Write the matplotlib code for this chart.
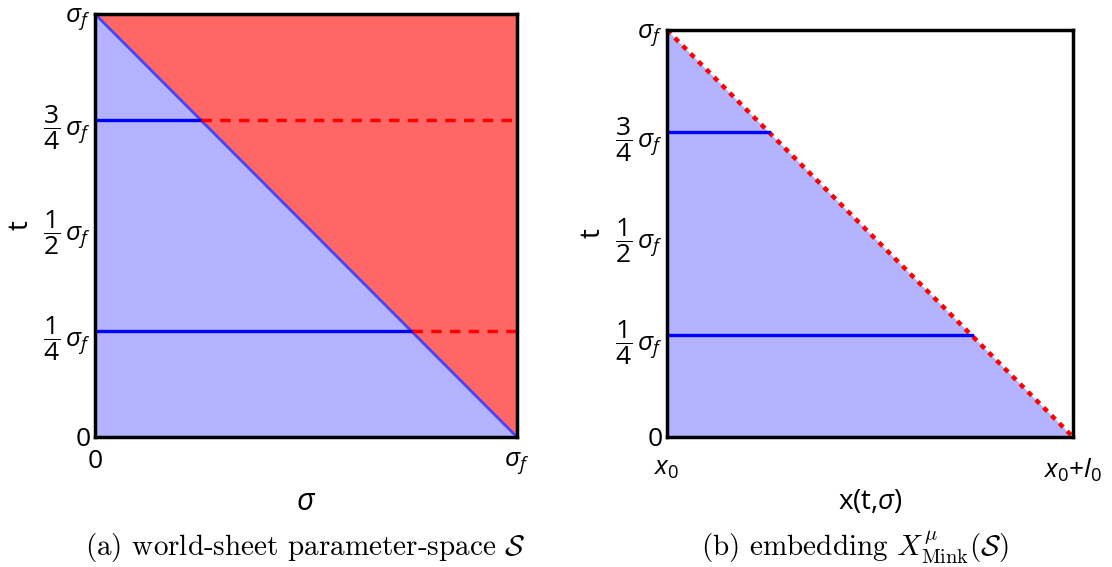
import matplotlib
matplotlib.use("Agg")
import matplotlib.pyplot as plt
import numpy as np

plt.rcParams['font.family'] = ['Open Sans', 'DejaVu Sans']
plt.rcParams['mathtext.fontset'] = 'custom'
plt.rcParams['mathtext.rm'] = 'Open Sans'
plt.rcParams['mathtext.it'] = 'Open Sans:italic'
plt.rcParams['mathtext.bf'] = 'Open Sans:bold'

# data (in units of sigma_f)
sigma = [0.0, 1.0]
t_edge = [1.0, 0.0]          # t = sigma_f - sigma
t_levels = [0.25, 0.75]
y_ticks = [0, 0.25, 0.5, 0.75, 1.0]
y_labels = ['0', r'$\dfrac{1}{4}\,\sigma_f$', r'$\dfrac{1}{2}\,\sigma_f$',
            r'$\dfrac{3}{4}\,\sigma_f$', r'$\sigma_f$']
xa_ticks = [0, 1]
xa_labels = ['0', r'$\sigma_f$']
xb_labels = [r'$x_0$', r'$x_0$+$l_0$']

blue_fill = '#b3b3ff'
red_fill = '#ff6666'
line_blue = '#0000ff'

fig = plt.figure(figsize=(11.12, 5.67), dpi=100)
ax1 = fig.add_axes([95 / 1112, 130 / 567, 422 / 1112, 423 / 567])
ax2 = fig.add_axes([667 / 1112, 130 / 567, 406 / 1112, 407 / 567])

# (a) parameter space
ax1.fill_between(sigma, 0, t_edge, color=blue_fill, lw=0)
ax1.fill_between(sigma, t_edge, 1, color=red_fill, lw=0)
ax1.plot(sigma, t_edge, color='#4444ff', lw=2)
for t in t_levels:
    s_cut = 1 - t
    ax1.plot([0, s_cut], [t, t], color=line_blue, lw=2.4)
    ax1.plot([s_cut, 1], [t, t], color='red', lw=2.5, ls=(0, (3, 2.4)))

# (b) embedding
ax2.fill_between(sigma, 0, t_edge, color=blue_fill, lw=0)
ax2.plot(sigma, t_edge, color='red', lw=3.2, ls=(0, (1.2, 1.3)))
for t in t_levels:
    ax2.plot([0, 1 - t], [t, t], color=line_blue, lw=2.4)

for ax in (ax1, ax2):
    ax.set_xlim(0, 1)
    ax.set_ylim(0, 1)
    ax.set_yticks(y_ticks)
    ax.set_yticklabels(y_labels)
    ax.set_xticks(xa_ticks)
    ax.tick_params(length=0, labelsize=19)
    ax.tick_params(axis='y', pad=3)
    for sp in ax.spines.values():
        sp.set_linewidth(2.5)
        sp.set_zorder(5)
    ax.set_ylabel('t', fontsize=20, labelpad=6)

ax1.tick_params(axis='x', pad=9)
ax2.tick_params(axis='x', pad=14)
ax1.set_xticklabels(xa_labels)
ax2.set_xticklabels(xb_labels)
ax1.set_xlabel(r'$\sigma$', fontsize=22, labelpad=8)
ax2.set_xlabel(r'x(t,$\sigma$)', fontsize=20, labelpad=3)

fig.text(305 / 1112, 1 - 548 / 567, r'(a) world-sheet parameter-space $\mathcal{S}$',
         family='cmr10', math_fontfamily='cm', fontsize=21, ha='center', va='center')
fig.text(855 / 1112, 1 - 548 / 567, r'(b) embedding $X^{\mu}_{\rm Mink}(\mathcal{S})$',
         family='cmr10', math_fontfamily='cm', fontsize=21, ha='center', va='center')

fig.savefig('out.png', dpi=100)
